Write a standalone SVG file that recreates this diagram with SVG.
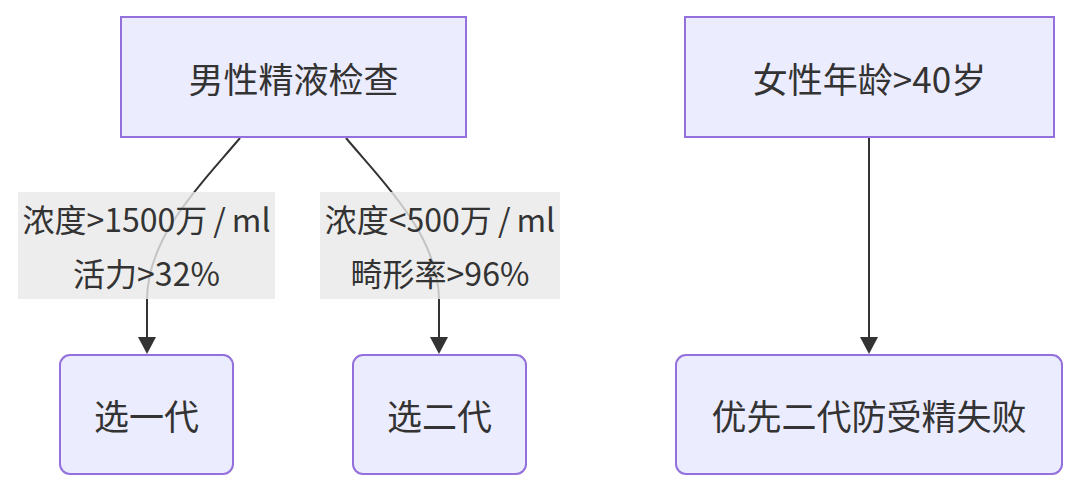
<svg xmlns="http://www.w3.org/2000/svg" width="1080" height="493" viewBox="0 0 1080 493">
<style>
.node rect{fill:#ECECFF;stroke:#9370DB;stroke-width:2}
.nt{font-family:"Noto Sans CJK SC","Noto Sans",sans-serif;font-size:35px;fill:#333;text-anchor:middle;dominant-baseline:central}
.lt{font-family:"Noto Sans CJK SC","Noto Sans",sans-serif;font-size:32px;fill:#333;text-anchor:middle;dominant-baseline:central}
.edge{fill:none;stroke:#333;stroke-width:2}
.lbg{fill:#e8e8e8;fill-opacity:0.8}
</style>
<defs>
<marker id="arr" viewBox="0 0 10 10" refX="0" refY="5" markerWidth="17" markerHeight="18" markerUnits="userSpaceOnUse" orient="auto" preserveAspectRatio="none">
<path d="M0,0 L10,5 L0,10 z" fill="#333"/>
</marker>
</defs>
<rect width="1080" height="493" fill="#fff"/>
<g id="connectors">
<path class="edge" d="M240,138 C205,180 147,235 147,300 L147,337" marker-end="url(#arr)"/>
<path class="edge" d="M346,138 C381,180 439,235 439,300 L439,337" marker-end="url(#arr)"/>
<path class="edge" d="M869,138 L869,337" marker-end="url(#arr)"/>
<g id="label1">
<rect class="lbg" x="18" y="192" width="257" height="107"/>
<text class="lt" x="146.5" y="218">浓度&gt;1500万<tspan dx="6">/</tspan><tspan dx="6">ml</tspan></text>
<text class="lt" x="146.5" y="272">活力&gt;32%</text>
</g>
<g id="label2">
<rect class="lbg" x="320" y="192" width="240" height="107"/>
<text class="lt" x="440" y="218">浓度&lt;500万<tspan dx="6">/</tspan><tspan dx="6">ml</tspan></text>
<text class="lt" x="440" y="272">畸形率&gt;96%</text>
</g>
</g>
<g id="nodeA" class="node">
<rect x="121" y="17" width="345" height="120"/>
<text class="nt" x="293.5" y="77">男性精液检查</text>
</g>
<g id="nodeB" class="node">
<rect x="685" y="17" width="369" height="120"/>
<text class="nt" x="869.5" y="77">女性年龄&gt;40岁</text>
</g>
<g id="nodeC" class="node">
<rect x="60" y="355" width="173" height="119" rx="10" ry="10"/>
<text class="nt" x="146.5" y="414">选一代</text>
</g>
<g id="nodeD" class="node">
<rect x="353" y="355" width="173" height="119" rx="10" ry="10"/>
<text class="nt" x="439.5" y="414">选二代</text>
</g>
<g id="nodeE" class="node">
<rect x="676" y="355" width="386" height="119" rx="10" ry="10"/>
<text class="nt" x="869" y="414">优先二代防受精失败</text>
</g>
</svg>
